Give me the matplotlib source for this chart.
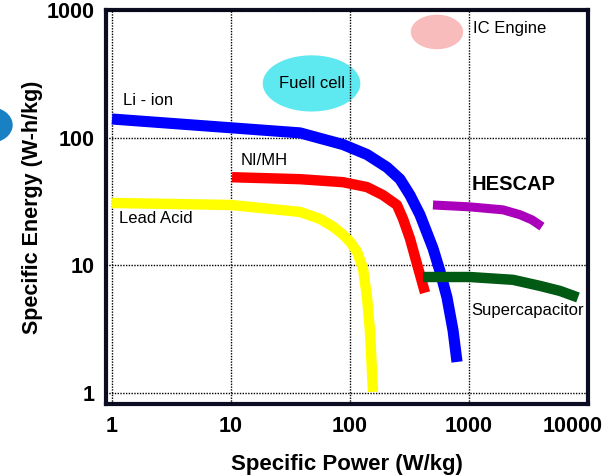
import matplotlib.pyplot as plt
import matplotlib.patches as mpatches
import matplotlib.transforms as mtransforms
import numpy as np

plt.rcParams['font.family'] = ['Liberation Sans', 'DejaVu Sans']

# Ragone curves: (power W/kg, energy Wh/kg)
li_power = [1, 10, 38, 87.3, 139, 205, 263, 319, 387, 498, 570, 653, 734, 793]
li_energy = [140, 119.5, 109, 88.3, 73.8, 58.5, 47.3, 35.5, 24.9, 13.6, 9.0, 5.6, 3.1, 1.75]

nimh_power = [10.2, 38, 87.3, 139, 189, 248, 279, 319, 366, 427]
nimh_energy = [49, 47.3, 44.8, 41, 35.5, 29.7, 23.1, 16.2, 10.2, 6.1]

lead_power = [1, 10, 38, 56, 71.9, 87.3, 100, 114.5, 128.5, 139, 147, 156]
lead_energy = [30.8, 29.7, 26.2, 23.1, 20.1, 17.4, 15.3, 12.8, 9.5, 5.6, 3.1, 1.02]

hescap_power = [498, 1019, 1932, 2685, 3383, 4104]
hescap_energy = [29.7, 28.7, 27.2, 24.9, 22.7, 20.1]

supcap_power = [410, 1019, 2344, 3953, 5821, 8240]
supcap_energy = [8.1, 8.1, 7.7, 6.9, 6.3, 5.6]

# regions drawn as ellipses: centre (power, energy)
fuel_cell_center = (47.5, 266)
ic_engine_center = (538, 673)

ticks = [1, 10, 100, 1000, 10000]
tick_labels = ['1', '10', '100', '1000', '10000']
yticks = [1, 10, 100, 1000]
ytick_labels = ['1', '10', '100', '1000']

fig = plt.figure(figsize=(6.1, 4.76), dpi=100)
ax = fig.add_axes([106 / 610, 1 - 404 / 476, (588 - 106) / 610, (404 - 10) / 476])
ax.set_xscale('log')
ax.set_yscale('log')
ax.set_xlim(0.89, 10000)
ax.set_ylim(0.82, 1000)


def log_ellipse(center, half_w, half_h, color):
    # ellipse in log space (half sizes in decades)
    t = np.linspace(0, 2 * np.pi, 200)
    lx = np.log10(center[0]) + half_w * np.cos(t)
    ly = np.log10(center[1]) + half_h * np.sin(t)
    ax.fill(10 ** lx, 10 ** ly, color=color, lw=0, zorder=0.5)


log_ellipse(fuel_cell_center, 0.41, 0.22, '#5ee9f0')
log_ellipse(ic_engine_center, 0.22, 0.135, '#f8bcbc')

kw = dict(solid_capstyle='butt', solid_joinstyle='round', zorder=3)
ax.plot(lead_power, lead_energy, color='#ffff00', lw=7.5, **kw)
ax.plot(nimh_power, nimh_energy, color='#ff0000', lw=7.5, **kw)
ax.plot(li_power, li_energy, color='#0000ff', lw=8, **kw)
ax.plot(hescap_power, hescap_energy, color='#aa00bb', lw=6.5, **kw)
ax.plot(supcap_power, supcap_energy, color='#005a14', lw=7.5, **kw)

ax.grid(True, which='major', color='black', linestyle=(0, (1, 1)), lw=1, zorder=1)
ax.set_axisbelow(False)
for s in ax.spines.values():
    s.set_linewidth(3)
    s.set_color('#0c0c22')

ax.set_xticks(ticks)
ax.set_xticklabels(tick_labels)
ax.set_yticks(yticks)
ax.set_yticklabels(ytick_labels)
ax.minorticks_off()
ax.tick_params(length=0, labelsize=15.5, pad=8)
ax.tick_params(axis='x', pad=9)
for lab in ax.get_xticklabels() + ax.get_yticklabels():
    lab.set_fontweight('bold')
# last x label sits a bit left, like the original
last = ax.get_xticklabels()[-1]
last.set_transform(last.get_transform() +
                   mtransforms.ScaledTranslation(-0.15, 0, fig.dpi_scale_trans))

ax.set_xlabel('Specific Power (W/kg)', fontsize=16, fontweight='bold', labelpad=12)
ax.set_ylabel('Specific Energy (W-h/kg)', fontsize=15.5, fontweight='bold', labelpad=3)

tk = dict(fontsize=12, va='center', ha='left', zorder=4)
ax.text(1.24, 197, 'Li - ion', **tk)
ax.text(12.1, 66.8, 'NI/MH', **tk)
ax.text(1.145, 23.1, 'Lead Acid', **tk)
ax.text(fuel_cell_center[0], fuel_cell_center[1], 'Fuell cell', fontsize=12,
        ha='center', va='center', zorder=4)
ax.text(1081, 710, 'IC Engine', **tk)
ax.text(1059, 43.3, 'HESCAP', fontsize=14.5, fontweight='bold', va='center',
        ha='left', zorder=4)
ax.text(1035, 4.4, 'Supercapacitor', **tk)

# partial circle cut at the left edge of the slide
fig.patches.append(mpatches.Circle((-10 / 610, 1 - 125 / 476), 22 / 610,
                                   transform=fig.transFigure, color='#1a80c4'))

fig.savefig('out.png', dpi=100)
